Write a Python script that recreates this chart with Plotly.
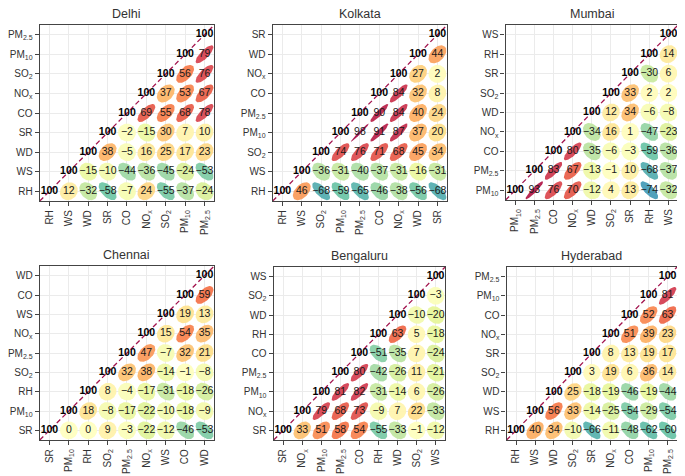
import numpy as np
import plotly.graph_objects as go

# ---------------- data ----------------
LABELS = {'RH': 'RH', 'WS': 'WS', 'WD': 'WD', 'SR': 'SR', 'CO': 'CO',
          'NOx': 'NO<sub>x</sub>', 'SO2': 'SO<sub>2</sub>',
          'PM10': 'PM<sub>10</sub>', 'PM25': 'PM<sub>2.5</sub>'}

delhi_vars = ['RH', 'WS', 'WD', 'SR', 'CO', 'NOx', 'SO2', 'PM10', 'PM25']
delhi_vals = [
    [12, -32, -58, -7, 24, -55, -37, -24],
    [-15, -10, -44, -36, -45, -24, -53],
    [38, -5, 16, 25, 17, 23],
    [-2, -15, 30, 7, 10],
    [69, 55, 68, 78],
    [37, 53, 67],
    [56, 76],
    [79],
]

kolkata_vars = ['RH', 'WS', 'SO2', 'PM10', 'PM25', 'CO', 'NOx', 'WD', 'SR']
kolkata_vals = [
    [46, -68, -59, -65, -46, -38, -56, -68],
    [-36, -31, -40, -37, -31, -16, -31],
    [74, 76, 71, 68, 45, 34],
    [98, 91, 87, 37, 20],
    [90, 84, 40, 24],
    [84, 32, 8],
    [27, 2],
    [44],
]

mumbai_vars = ['PM10', 'PM25', 'CO', 'NOx', 'WD', 'SO2', 'SR', 'RH', 'WS']
mumbai_vals = [
    [93, 76, 70, -12, 4, 13, -74, -32],
    [83, 67, -13, -1, 10, -68, -37],
    [80, -35, -6, -3, -59, -36],
    [-34, 16, 1, -47, -23],
    [12, 34, -6, -8],
    [33, 2, 2],
    [-30, 6],
    [14],
]

chennai_vars = ['SR', 'PM10', 'RH', 'SO2', 'PM25', 'NOx', 'WS', 'CO', 'WD']
chennai_vals = [
    [0, 0, 9, -3, -22, -12, -46, -53],
    [18, -8, -17, -22, -10, -18, -9],
    [8, -4, -17, -31, -18, -26],
    [32, 38, -14, -1, -8],
    [47, -7, 32, 21],
    [15, 54, 35],
    [19, 13],
    [59],
]

bengaluru_vars = ['SR', 'NOx', 'PM10', 'PM25', 'CO', 'RH', 'WD', 'SO2', 'WS']
bengaluru_vals = [
    [33, 51, 58, 54, -55, -33, -1, -12],
    [79, 68, 73, -9, 7, 22, -33],
    [81, 82, -31, -14, 6, -26],
    [80, -42, -26, 11, -21],
    [-51, -35, 7, -24],
    [63, 5, -18],
    [-10, -20],
    [-3],
]

hyderabad_vars = ['RH', 'WS', 'WD', 'SO2', 'SR', 'NOx', 'CO', 'PM10', 'PM25']
hyderabad_vals = [
    [40, 34, -10, -66, -11, -48, -62, -60],
    [56, 33, -14, -25, -54, -29, -54],
    [25, -18, -19, -46, -19, -44],
    [3, 19, 6, 36, 14],
    [8, 13, 19, 17],
    [51, 39, 23],
    [52, 63],
    [81],
]

cities = ['Delhi', 'Kolkata', 'Mumbai', 'Chennai', 'Bengaluru', 'Hyderabad']
panels = [
    (delhi_vars, delhi_vals), (kolkata_vars, kolkata_vals), (mumbai_vars, mumbai_vals),
    (chennai_vars, chennai_vals), (bengaluru_vars, bengaluru_vals), (hyderabad_vars, hyderabad_vals),
]

# ---------------- layout geometry (pixels in the window) ----------------
OFF = 8  # page body margin
W, H = 685 - OFF, 476 - OFF
boxes = [  # left, right, top, bottom (window pixels)
    (34, 210, 25, 201), (269, 445, 25, 201), (504, 678, 25, 200),
    (34, 210, 266, 440), (270, 443, 267, 440), (505, 677, 267, 440),
]

SPECTRAL = ['#9e0142', '#d53e4f', '#f46d43', '#fdae61', '#fee08b', '#ffffbf',
            '#e6f598', '#abdda4', '#66c2a5', '#3288bd', '#5e4fa2'][::-1]


def hex2rgb(h):
    h = h.lstrip('#')
    return [int(h[i:i + 2], 16) for i in (0, 2, 4)]


def corr_color(r):
    p = (r + 1) / 2 * (len(SPECTRAL) - 1)
    i = int(np.floor(p))
    i = min(max(i, 0), len(SPECTRAL) - 2)
    f = p - i
    a, b = hex2rgb(SPECTRAL[i]), hex2rgb(SPECTRAL[i + 1])
    c = [round(a[k] + (b[k] - a[k]) * f) for k in range(3)]
    return 'rgba(%d,%d,%d,0.92)' % tuple(c)


fig = go.Figure()
t = np.linspace(0, 2 * np.pi, 60)
S = 0.46
annotations = []
FONT = 'Liberation Sans, Arial'

for p, ((vars_, vals), city, box) in enumerate(zip(panels, cities, boxes)):
    ax = '' if p == 0 else str(p + 1)
    xref, yref = 'x' + ax, 'y' + ax
    n = len(vars_)
    # ellipses
    for i, row in enumerate(vals):
        for k, v in enumerate(row):
            j = i + 1 + k
            r = v / 100.0
            d = np.arccos(np.clip(r, -1, 1))
            ex = j + S * np.cos(t + d / 2)
            ey = i + S * np.cos(t - d / 2)
            fig.add_trace(go.Scatter(x=ex, y=ey, mode='lines', fill='toself',
                                     fillcolor=corr_color(r), line=dict(width=0),
                                     hoverinfo='skip', showlegend=False,
                                     xaxis=xref, yaxis=yref))
    # diagonal dashed line
    fig.add_trace(go.Scatter(x=[-0.5, n - 0.5], y=[-0.5, n - 0.5], mode='lines',
                             line=dict(color='#a3154f', width=1.3, dash='5px,3px'),
                             hoverinfo='skip', showlegend=False, xaxis=xref, yaxis=yref))
    # off-diagonal numbers
    tx, ty, tt = [], [], []
    for i, row in enumerate(vals):
        for k, v in enumerate(row):
            tx.append(i + 1 + k)
            ty.append(i)
            tt.append(str(v).replace('-', '\u2212'))
    fig.add_trace(go.Scatter(x=tx, y=ty, text=tt, mode='text',
                             textfont=dict(family=FONT, size=10.5, color='#1a1a1a'),
                             hoverinfo='skip', showlegend=False, xaxis=xref, yaxis=yref))
    # diagonal numbers
    fig.add_trace(go.Scatter(x=list(range(n)), y=list(range(n)), text=['100'] * n, mode='text',
                             textfont=dict(family=FONT, size=10.5, color='#000000', weight='bold'),
                             hoverinfo='skip', showlegend=False, xaxis=xref, yaxis=yref))

    left, right, top, bottom = [c - OFF for c in box]
    common = dict(range=[-0.5, n - 0.5], showgrid=True, gridcolor='#ebebeb', gridwidth=1,
                  zeroline=False, showline=True, mirror=True, linecolor='#444444', linewidth=1.3,
                  ticks='outside', ticklen=4, tickwidth=1, tickcolor='#444444',
                  tickvals=list(range(n)), ticktext=[LABELS[v] for v in vars_],
                  tickfont=dict(family=FONT, size=10, color='#333333'),
                  fixedrange=True)
    fig.layout['xaxis' + ax] = dict(common, domain=[left / W, right / W], anchor=yref,
                                    tickangle=-90)
    fig.layout['yaxis' + ax] = dict(common, domain=[1 - bottom / H, 1 - top / H], anchor=xref)
    annotations.append(dict(text=city, x=(left + right) / 2 / W, y=1 - (top - 11) / H,
                            xref='paper', yref='paper', showarrow=False,
                            font=dict(family=FONT, size=12.5, color='#333333'),
                            xanchor='center', yanchor='middle'))

fig.update_layout(width=W, height=H, margin=dict(l=0, r=0, t=0, b=0),
                  paper_bgcolor='white', plot_bgcolor='white',
                  annotations=annotations, showlegend=False)

fig.write_html('out.html')
